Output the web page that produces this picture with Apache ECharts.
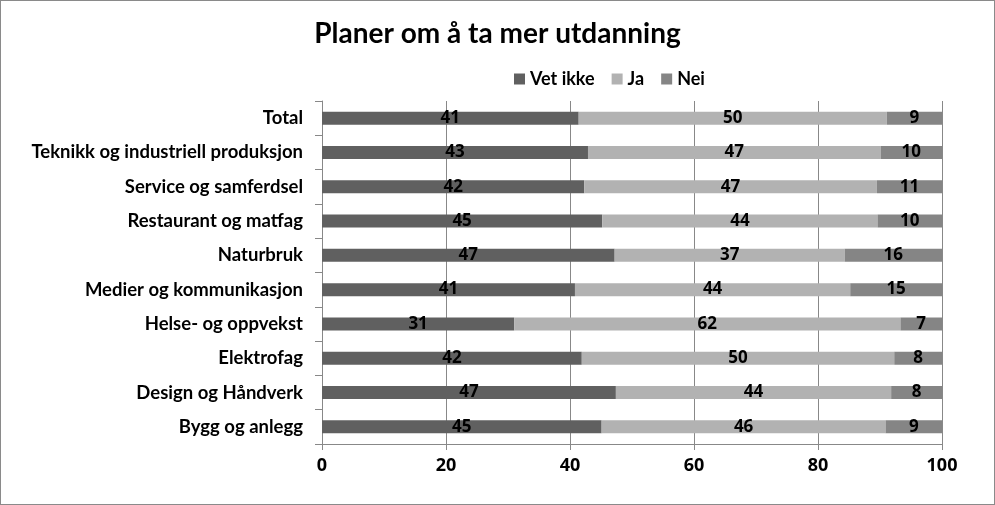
<!DOCTYPE html>
<html>
<head>
<meta charset="utf-8">
<script src="https://cdn.jsdelivr.net/npm/echarts@6/dist/echarts.min.js"></script>
<style>
html,body{margin:0;padding:0;background:#fff;}
#c{width:995px;height:505px;box-sizing:border-box;border:1px solid #8a8a8a;}
</style>
</head>
<body>
<div id="c"></div>
<script>
const categories = ["Total","Teknikk og industriell produksjon","Service og samferdsel","Restaurant og matfag","Naturbruk","Medier og kommunikasjon","Helse- og oppvekst","Elektrofag","Design og Håndverk","Bygg og anlegg"];
const vetIkke = [41.4, 42.9, 42.3, 45.2, 47.2, 40.8, 31.0, 41.9, 47.4, 45.1];
const ja      = [49.7, 47.2, 47.2, 44.4, 37.1, 44.4, 62.3, 50.4, 44.4, 45.8];
const nei     = [ 8.9,  9.9, 10.5, 10.4, 15.7, 14.8,  6.7,  7.7,  8.2,  9.1];
const xTicks = [0, 20, 40, 60, 80, 100];

const FONT = 'Lato';
const NUMFONT = 'Open Sans';
const chart = echarts.init(document.getElementById('c'), null, {renderer:'canvas'});
const lbl = {show:true, position:'inside', color:'#000', fontFamily:NUMFONT, fontWeight:'bold', fontSize:17,
  formatter: p => Math.round(p.value)};
function s(name, data, color){
  return {name, type:'bar', stack:'t', data, barWidth:13, itemStyle:{color}, label:lbl, emphasis:{disabled:true}};
}
chart.setOption({
  animation:false,
  title:{text:'Planer om å ta mer utdanning', left:'center', top:14,
    textStyle:{fontFamily:FONT, fontWeight:'bold', fontSize:28, color:'#000'}},
  legend:{left:508, top:64, itemWidth:11, itemHeight:11, itemGap:17, icon:'rect',
    textStyle:{fontFamily:FONT, fontWeight:'bold', fontSize:18, color:'#000'},
    data:['Vet ikke','Ja','Nei']},
  grid:{left:321, right:52, top:100, bottom:60, containLabel:false},
  xAxis:{type:'value', min:0, max:100, interval:20,
    axisLine:{show:true, lineStyle:{color:'#888'}},
    axisTick:{show:true, length:6, lineStyle:{color:'#888'}},
    splitLine:{show:true, lineStyle:{color:'#888'}},
    axisLabel:{margin:13, fontFamily:NUMFONT, fontWeight:'bold', fontSize:18, color:'#000',
      formatter: v => xTicks.includes(v) ? String(v) : ''}},
  yAxis:{type:'category', data:categories, inverse:true,
    axisLine:{show:true, lineStyle:{color:'#888'}},
    axisTick:{show:true, length:7, lineStyle:{color:'#888'}},
    axisLabel:{margin:19, fontFamily:FONT, fontWeight:'bold', fontSize:18.5, color:'#000'}},
  series:[s('Vet ikke', vetIkke, '#606060'), s('Ja', ja, '#b2b2b2'), s('Nei', nei, '#858585')]
});
</script>
</body>
</html>
